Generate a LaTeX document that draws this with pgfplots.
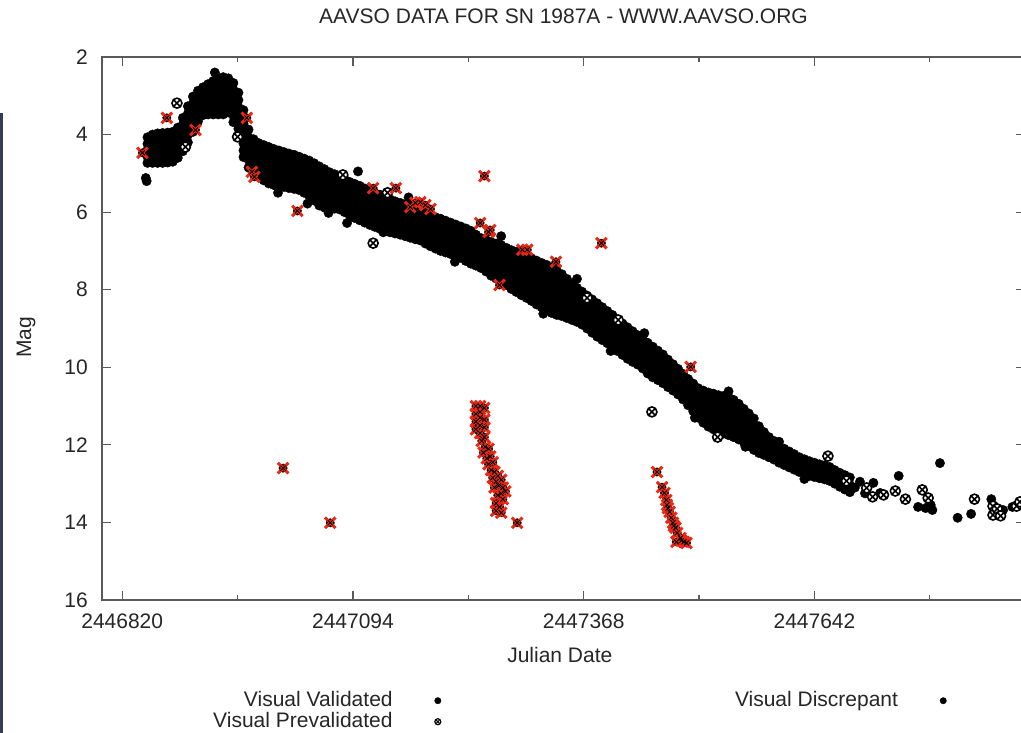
\documentclass[border=0pt]{standalone}
\usepackage{fontspec}
\setmainfont{Liberation Sans}
\usepackage{pgfplots}
\usepackage{pgfplotstable}
\pgfplotsset{compat=1.18}
\usetikzlibrary{plotmarks}
\definecolor{barcol}{RGB}{55,58,85}
\definecolor{axcol}{RGB}{90,90,90}
\definecolor{xred}{RGB}{235,40,20}

% x = Julian Date - 2446800 ; y = visual magnitude
% dense core of validated observations: several magnitudes per date
\pgfplotstableread{
x y1 y2 y3 y4 y5 y6 y7 y8
50 4.07 4.24 4.40 4.57 4.73 nan nan nan
56 4.00 4.18 4.37 4.55 4.73 nan nan nan
62 3.97 4.16 4.35 4.54 4.73 nan nan nan
68 3.96 4.15 4.35 4.54 4.73 nan nan nan
74 3.95 4.14 4.34 4.53 4.72 nan nan nan
80 3.93 4.12 4.32 4.51 4.70 nan nan nan
86 3.82 4.02 4.21 4.41 4.60 nan nan nan
92 3.57 3.74 3.91 4.09 4.26 4.43 nan nan
98 3.27 3.46 3.64 3.83 4.01 4.20 nan nan
104 3.02 3.20 3.38 3.57 3.75 3.93 nan nan
110 2.87 3.07 3.27 3.46 3.66 nan nan nan
116 2.78 2.96 3.14 3.32 3.50 nan nan nan
122 2.70 2.90 3.09 3.29 3.48 nan nan nan
128 2.62 2.79 2.96 3.14 3.31 3.48 nan nan
134 2.54 2.73 2.92 3.10 3.29 3.48 nan nan
140 2.52 2.71 2.90 3.10 3.29 3.48 nan nan
146 2.55 2.73 2.90 3.08 3.25 3.43 nan nan
152 2.67 2.84 3.01 3.18 3.34 3.51 3.68 nan
158 2.92 3.11 3.29 3.48 3.66 3.85 4.03 nan
164 3.37 3.54 3.72 3.89 4.06 4.23 4.41 4.58
170 3.87 4.07 4.26 4.46 4.65 4.85 nan nan
176 4.12 4.29 4.45 4.62 4.78 4.95 nan nan
182 4.22 4.39 4.56 4.74 4.91 5.08 nan nan
188 4.27 4.45 4.63 4.82 5.00 5.18 nan nan
194 4.32 4.51 4.70 4.88 5.07 5.26 nan nan
200 4.37 4.56 4.74 4.93 5.11 5.30 nan nan
206 4.41 4.59 4.78 4.96 5.15 5.33 nan nan
212 4.45 4.63 4.81 4.99 5.17 5.35 nan nan
218 4.49 4.67 4.85 5.02 5.20 5.38 nan nan
224 4.52 4.70 4.87 5.05 5.22 5.40 nan nan
230 4.57 4.74 4.91 5.09 5.26 5.43 nan nan
236 4.62 4.80 4.97 5.15 5.32 5.50 nan nan
242 4.67 4.85 5.03 5.22 5.40 5.58 nan nan
248 4.74 4.93 5.12 5.32 5.51 5.70 nan nan
254 4.82 4.99 5.16 5.33 5.49 5.66 5.83 nan
260 4.89 5.09 5.29 5.48 5.68 5.88 nan nan
266 4.97 5.16 5.34 5.53 5.71 5.90 nan nan
272 5.02 5.20 5.38 5.55 5.73 5.91 nan nan
278 5.09 5.26 5.43 5.59 5.76 5.93 nan nan
284 5.15 5.32 5.49 5.66 5.83 6.00 nan nan
290 5.22 5.39 5.56 5.74 5.91 6.08 nan nan
296 5.27 5.45 5.62 5.80 5.97 6.15 nan nan
302 5.32 5.50 5.68 5.85 6.03 6.21 nan nan
308 5.39 5.57 5.74 5.92 6.09 6.27 nan nan
314 5.46 5.63 5.81 5.98 6.16 6.33 nan nan
320 5.51 5.68 5.86 6.03 6.21 6.38 nan nan
326 5.55 5.73 5.90 6.08 6.25 6.43 nan nan
332 5.62 5.79 5.96 6.14 6.31 6.48 nan nan
338 5.67 5.84 6.01 6.18 6.35 6.52 nan nan
344 5.72 5.89 6.05 6.22 6.38 6.55 nan nan
350 5.76 5.92 6.09 6.25 6.42 6.58 nan nan
356 5.80 5.96 6.13 6.29 6.46 6.62 nan nan
362 5.84 6.00 6.17 6.33 6.50 6.66 nan nan
368 5.90 6.10 6.30 6.50 6.70 nan nan nan
374 5.97 6.16 6.35 6.54 6.73 nan nan nan
380 6.03 6.23 6.42 6.62 6.81 nan nan nan
386 6.09 6.29 6.49 6.68 6.88 nan nan nan
392 6.13 6.33 6.54 6.74 6.94 nan nan nan
398 6.17 6.34 6.50 6.67 6.83 7.00 nan nan
404 6.22 6.38 6.55 6.71 6.88 7.04 nan nan
410 6.27 6.43 6.59 6.76 6.92 7.08 nan nan
416 6.32 6.48 6.64 6.81 6.97 7.13 nan nan
422 6.37 6.53 6.69 6.86 7.02 7.18 nan nan
428 6.42 6.59 6.76 6.92 7.09 7.26 nan nan
434 6.48 6.65 6.82 6.99 7.16 7.33 nan nan
440 6.58 6.74 6.90 7.06 7.22 7.38 nan nan
446 6.67 6.86 7.06 7.25 7.44 nan nan nan
452 6.72 6.92 7.13 7.33 7.53 nan nan nan
458 6.77 6.94 7.12 7.29 7.47 7.64 nan nan
464 6.81 6.99 7.17 7.35 7.53 7.71 nan nan
470 6.85 7.04 7.23 7.41 7.60 7.79 nan nan
476 6.92 7.11 7.30 7.50 7.69 7.88 nan nan
482 6.98 7.18 7.38 7.58 7.78 7.98 nan nan
488 7.02 7.19 7.37 7.54 7.71 7.89 8.06 nan
494 7.07 7.25 7.43 7.61 7.78 7.96 8.14 nan
500 7.13 7.31 7.49 7.67 7.85 8.03 8.21 nan
506 7.19 7.37 7.56 7.74 7.92 8.11 8.29 nan
512 7.25 7.44 7.63 7.82 8.00 8.19 8.38 nan
518 7.31 7.50 7.69 7.88 8.07 8.26 8.45 nan
524 7.36 7.56 7.75 7.95 8.14 8.34 8.53 nan
530 7.42 7.62 7.81 8.01 8.21 8.40 8.60 nan
536 7.51 7.70 7.89 8.08 8.27 8.46 8.65 nan
542 7.60 7.78 7.96 8.14 8.32 8.50 8.68 nan
548 7.72 7.92 8.12 8.33 8.53 8.73 nan nan
554 7.85 8.04 8.22 8.41 8.59 8.78 nan nan
560 7.95 8.13 8.30 8.48 8.65 8.83 nan nan
566 8.05 8.22 8.39 8.56 8.73 8.90 nan nan
572 8.15 8.32 8.49 8.66 8.83 9.00 nan nan
578 8.25 8.42 8.59 8.77 8.94 9.11 nan nan
584 8.35 8.52 8.69 8.87 9.04 9.21 nan nan
590 8.45 8.62 8.79 8.96 9.13 9.30 nan nan
596 8.55 8.72 8.88 9.05 9.21 9.38 nan nan
602 8.65 8.81 8.97 9.14 9.30 9.46 nan nan
608 8.77 8.93 9.09 9.26 9.42 9.58 nan nan
614 8.87 9.03 9.19 9.36 9.52 9.68 nan nan
620 8.97 9.13 9.29 9.46 9.62 9.78 nan nan
626 9.07 9.27 9.47 9.66 9.86 nan nan nan
632 9.17 9.36 9.55 9.74 9.93 nan nan nan
638 9.27 9.46 9.65 9.84 10.03 nan nan nan
644 9.37 9.57 9.77 9.96 10.16 nan nan nan
650 9.47 9.67 9.87 10.06 10.26 nan nan nan
656 9.57 9.76 9.95 10.14 10.33 nan nan nan
662 9.67 9.86 10.04 10.23 10.41 nan nan nan
668 9.80 9.98 10.16 10.33 10.51 nan nan nan
674 9.92 10.09 10.26 10.43 10.60 nan nan nan
680 10.04 10.21 10.37 10.54 10.70 nan nan nan
686 10.17 10.34 10.50 10.67 10.83 nan nan nan
692 10.30 10.47 10.64 10.81 10.98 nan nan nan
698 10.42 10.60 10.78 10.95 11.13 nan nan nan
704 10.54 10.73 10.92 11.11 11.30 nan nan nan
710 10.60 10.77 10.93 11.10 11.26 11.43 nan nan
716 10.65 10.83 11.00 11.18 11.35 11.53 nan nan
722 10.68 10.86 11.05 11.23 11.42 11.60 nan nan
728 10.72 10.91 11.10 11.28 11.47 11.66 nan nan
734 10.74 10.93 11.13 11.32 11.52 11.71 nan nan
740 10.77 10.97 11.16 11.36 11.55 11.75 nan nan
746 10.84 11.03 11.22 11.42 11.61 11.80 nan nan
752 10.94 11.12 11.31 11.49 11.68 11.86 nan nan
758 11.07 11.24 11.41 11.59 11.76 11.93 nan nan
764 11.19 11.36 11.53 11.69 11.86 12.03 nan nan
770 11.32 11.48 11.64 11.81 11.97 12.13 nan nan
776 11.52 11.69 11.87 12.04 12.21 nan nan nan
782 11.67 11.87 12.06 12.26 nan nan nan nan
788 11.80 11.97 12.15 12.32 nan nan nan nan
794 11.90 12.06 12.22 12.38 nan nan nan nan
800 12.02 12.24 12.46 nan nan nan nan nan
806 12.10 12.24 12.38 12.52 nan nan nan nan
812 12.17 12.38 12.58 nan nan nan nan nan
818 12.24 12.44 12.64 nan nan nan nan nan
824 12.32 12.51 12.70 nan nan nan nan nan
830 12.37 12.56 12.75 nan nan nan nan nan
836 12.42 12.61 12.80 nan nan nan nan nan
842 12.46 12.65 12.83 nan nan nan nan nan
848 12.50 12.68 12.86 nan nan nan nan nan
854 12.53 12.71 12.89 nan nan nan nan nan
860 12.57 12.75 12.93 nan nan nan nan nan
866 12.65 12.83 13.00 nan nan nan nan nan
872 12.72 12.90 13.08 nan nan nan nan nan
878 12.78 12.97 13.15 nan nan nan nan nan
884 12.84 13.03 13.22 nan nan nan nan nan
}\band

% isolated validated observations and edge scatter
\pgfplotstableread{
x y
48 5.12
49 5.20
130 2.40
175 4.95
205 5.50
240 5.78
265 6.02
287 6.28
300 4.95
330 6.52
360 5.62
415 7.28
470 6.62
520 8.62
560 7.72
600 9.58
640 9.12
700 11.30
740 10.62
760 12.05
800 11.92
830 12.88
890 13.10
896 12.95
902 13.25
912 12.98
920 13.24
942 12.80
965 13.60
974 13.63
980 13.55
982 13.68
991 12.47
1012 13.88
1028 13.78
1052 13.40
1066 13.68
1077 13.60
}\valout

% prevalidated observations
\pgfplotstableread{
x y
85 3.19
95 4.32
157 4.06
282 5.04
318 6.80
335 5.50
572 8.21
609 8.78
649 11.15
727 11.80
858 12.29
880 12.93
904 13.11
911 13.34
924 13.29
938 13.19
950 13.40
970 13.16
977 13.37
1032 13.40
1054 13.58
1054 13.81
1059 13.65
1063 13.83
1082 13.58
1086 13.47
}\preval

% discrepant observations
\pgfplotstableread{
x y
44 4.47
73 3.57
107 3.88
168 3.57
174 4.96
177 5.09
211 12.60
228 5.97
267 14.01
318 5.38
345 5.38
362 5.87
368 5.76
374 5.74
380 5.82
386 5.92
445 6.28
450 5.07
455 6.51
457 6.46
468 7.88
489 14.01
495 6.97
501 6.97
535 7.28
589 6.80
695 9.99
440 11.00
440 11.20
440 11.40
440 11.60
445 11.00
445 11.15
445 11.30
445 11.50
445 11.70
450 11.05
450 11.35
450 11.55
450 11.80
447 11.90
451 12.05
455 12.10
449 12.20
453 12.35
457 12.30
455 12.50
460 12.45
458 12.65
462 12.70
466 12.80
460 12.85
464 12.95
470 12.90
467 13.05
472 13.10
462 13.10
470 13.25
475 13.20
466 13.30
472 13.40
464 13.50
468 13.60
464 13.70
470 13.75
655 12.70
661 13.09
664 13.24
666 13.42
667 13.55
668 13.63
670 13.73
672 13.88
674 14.01
675 14.09
677 14.14
679 14.27
678 14.50
683 14.40
684 14.47
687 14.50
690 14.53
}\discr

\begin{document}
\begin{tikzpicture}
\begin{axis}[
  scale only axis,
  width=923pt, height=543pt,
  xmin=-4, xmax=1092,
  ymin=2, ymax=16, y dir=reverse,
  font=\fontsize{21}{25}\selectfont,
  xtick={20,294,568,842},
  xticklabels={2446820,2447094,2447368,2447642},
  minor xtick={157,431,705,979},
  ytick={2,4,6,8,10,12,14,16},
  /pgf/number format/assume math mode=true,
  tick align=inside,
  major tick length=9pt,
  minor tick length=5pt,
  axis line style={draw=axcol, line width=1.4pt},
  every tick/.style={draw=axcol, line width=1.2pt},
  xticklabel style={font=\fontsize{21}{25}\selectfont, inner sep=0pt, anchor=north, yshift=-14pt, text=black!85},
  yticklabel style={font=\fontsize{21}{25}\selectfont, inner sep=0pt, anchor=east, xshift=-14pt, text=black!85},
  title={AAVSO DATA FOR SN 1987A - WWW.AAVSO.ORG},
  title style={font=\fontsize{21}{25}\selectfont, at={(axis description cs:0.5,1.0645)}, anchor=center, inner sep=0pt, text=black!85},
  xlabel={Julian Date},
  xlabel style={font=\fontsize{21}{25}\selectfont, at={(axis description cs:0.496,-0.102)}, anchor=center, inner sep=0pt, text=black!85},
  ylabel={Mag},
  ylabel style={font=\fontsize{21}{25}\selectfont, at={(axis description cs:-0.0823,0.484)}, anchor=center, inner sep=0pt, text=black!85},
  legend columns=2,
  legend plot pos=right,
  legend cell align=right,
  legend style={draw=none, fill=none, font=\fontsize{21}{25}\selectfont,
    at={(axis description cs:0.1203,-0.1676)}, anchor=north west,
    inner sep=0pt, row sep=2pt, text=black!85,
    nodes={inner sep=0pt, text height=15pt, text depth=4pt},
    /tikz/every odd column/.append style={column sep=36pt},
    /tikz/every even column/.append style={column sep=288pt}},
]
\addlegendimage{legend image code/.code={\path (0pt,0pt) (18pt,0pt); \fill[black] (9pt,0pt) circle (3.2pt);}}
\addlegendentry{Visual Validated}
\addlegendimage{legend image code/.code={\path (0pt,0pt) (18pt,0pt); \fill[black] (9pt,0pt) circle (3.2pt);}}
\addlegendentry{Visual Discrepant}
\addlegendimage{legend image code/.code={\path (0pt,0pt) (18pt,0pt); \draw[black, fill=white, line width=1.2pt] (9pt,0pt) circle (3pt); \draw[black, line width=1pt] (7.3pt,-1.7pt)--(10.7pt,1.7pt) (7.3pt,1.7pt)--(10.7pt,-1.7pt);}}
\addlegendentry{Visual Prevalidated}

\addplot[only marks, mark=*, mark size=4.7pt, black, forget plot] table[x=x, y=y1] {\band};
\addplot[only marks, mark=*, mark size=4.7pt, black, forget plot] table[x=x, y=y2] {\band};
\addplot[only marks, mark=*, mark size=4.7pt, black, forget plot] table[x=x, y=y3] {\band};
\addplot[only marks, mark=*, mark size=4.7pt, black, forget plot] table[x=x, y=y4] {\band};
\addplot[only marks, mark=*, mark size=4.7pt, black, forget plot] table[x=x, y=y5] {\band};
\addplot[only marks, mark=*, mark size=4.7pt, black, forget plot] table[x=x, y=y6] {\band};
\addplot[only marks, mark=*, mark size=4.7pt, black, forget plot] table[x=x, y=y7] {\band};
\addplot[only marks, mark=*, mark size=4.7pt, black, forget plot] table[x=x, y=y8] {\band};
\addplot[only marks, mark=*, mark size=4.7pt, black, forget plot] table[x=x, y=y] {\valout};
\addplot[only marks, mark=otimes*, mark size=5pt, mark options={draw=black, fill=white, line width=1.6pt}, forget plot] table[x=x, y=y] {\preval};
\addplot[only marks, mark=*, mark size=4.2pt, black, forget plot] table[x=x, y=y] {\discr};
\addplot[only marks, mark=x, mark size=7.5pt, mark options={draw=xred, line width=3pt}, forget plot] table[x=x, y=y] {\discr};
\addplot[only marks, mark=x, mark size=3.5pt, mark options={draw=black, line width=0.9pt}, forget plot] table[x=x, y=y] {\discr};
\end{axis}
\fill[barcol] (-102pt,-133pt) rectangle (-99pt,487pt);
\pgfresetboundingbox
\useasboundingbox (-102pt,-133pt) rectangle (919pt,600pt);
\end{tikzpicture}
\end{document}
